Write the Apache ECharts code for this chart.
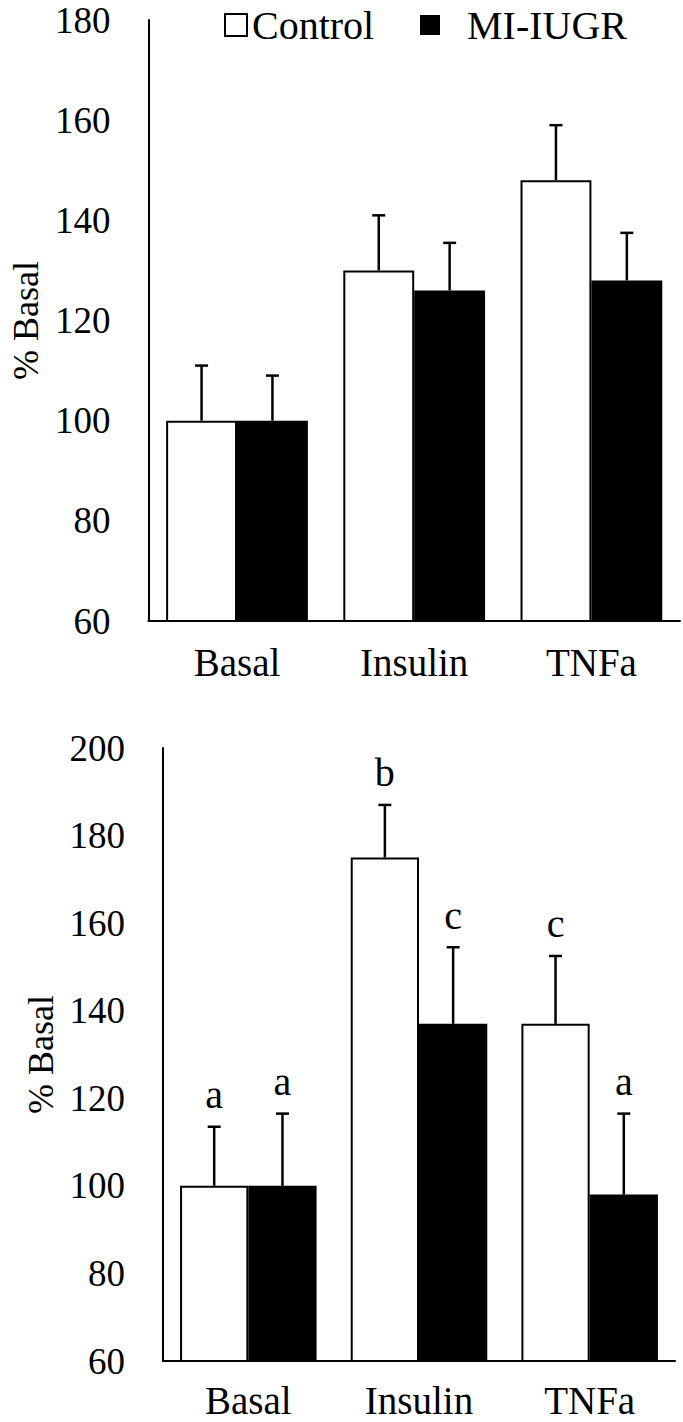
<!DOCTYPE html>
<html>
<head>
<meta charset="utf-8">
<script src="https://cdn.jsdelivr.net/npm/echarts@6/dist/echarts.min.js"></script>
<style>
html,body{margin:0;padding:0;background:#fff;}
#chart{width:683px;height:1422px;}
</style>
</head>
<body>
<div id="chart"></div>
<script>
// ---- data ----
const categories = ['Basal', 'Insulin', 'TNFa'];
const seriesNames = ['Control', 'MI-IUGR'];
// top panel
const topControl = [100, 130, 148];
const topControlErr = [11, 11, 11];
const topMI = [100, 126, 128];
const topMIErr = [9, 9.5, 9.5];
// bottom panel
const botControl = [100, 175, 137];
const botControlErr = [13.5, 12, 15.5];
const botMI = [100, 137, 98];
const botMIErr = [16.5, 17.5, 18.5];
const botControlLetters = ['a', 'b', 'c'];
const botMILetters = ['a', 'c', 'a'];
// axes
const topAxis = { min: 60, max: 180, interval: 20 };
const botAxis = { min: 60, max: 200, interval: 20 };
const yTitle = '% Basal';

const FONT = 'Liberation Serif';

function errData(vals, errs, sign) {
  return vals.map((v, i) => [i, v, errs[i], sign]);
}

function errSeries(name, xi, vals, errs, sign, letters) {
  return {
    type: 'custom',
    name: name + ' err',
    xAxisIndex: xi, yAxisIndex: xi,
    z: 5,
    silent: true,
    data: errData(vals, errs, sign),
    renderItem: function (params, api) {
      const idx = api.value(0), val = api.value(1), err = api.value(2), s = api.value(3);
      const band = api.size([1, 0])[0];
      const off = s * band * 0.2;
      const p0 = api.coord([idx, val]);
      const p1 = api.coord([idx, val + err]);
      const x = p0[0] + off;
      const ls = { stroke: '#000', lineWidth: 2.5 };
      const children = [
        { type: 'line', shape: { x1: x, y1: p0[1], x2: x, y2: p1[1] }, style: ls },
        { type: 'line', shape: { x1: x - 6.5, y1: p1[1], x2: x + 6.5, y2: p1[1] }, style: ls }
      ];
      if (letters) {
        children.push({
          type: 'text',
          style: {
            text: letters[params.dataIndex],
            x: x, y: p1[1] - 12,
            textAlign: 'center', textVerticalAlign: 'bottom',
            fontSize: 40, fontFamily: FONT, fill: '#000'
          }
        });
      }
      return { type: 'group', children: children };
    }
  };
}

function barSeries(name, xi, vals, isControl) {
  return {
    type: 'bar',
    name: name,
    xAxisIndex: xi, yAxisIndex: xi,
    data: vals,
    barGap: '0%',
    barCategoryGap: '20%',
    itemStyle: isControl
      ? { color: '#fff', borderColor: '#000', borderWidth: 2 }
      : { color: '#000', borderColor: '#000', borderWidth: 0 },
    emphasis: { disabled: true }
  };
}

function xAxis(gi, margin) {
  return {
    type: 'category', gridIndex: gi, data: categories,
    axisLine: { lineStyle: { color: '#000', width: 2 } },
    axisTick: { show: false },
    axisLabel: { color: '#000', fontSize: 39, fontFamily: FONT, margin: margin },
    splitLine: { show: false }
  };
}

function yAxis(gi, ax) {
  return {
    type: 'value', gridIndex: gi, min: ax.min, max: ax.max, interval: ax.interval,
    name: yTitle, nameLocation: 'middle', nameGap: 104,
    nameTextStyle: { color: '#000', fontSize: 36, fontFamily: FONT },
    axisLine: { show: true, lineStyle: { color: '#000', width: 2 } },
    axisTick: { show: false },
    axisLabel: { color: '#000', fontSize: 37, fontFamily: FONT, margin: 38 },
    splitLine: { show: false }
  };
}

const chart = echarts.init(document.getElementById('chart'), null, { renderer: 'svg' });
chart.setOption({
  animation: false,
  backgroundColor: '#fff',
  textStyle: { fontFamily: FONT },
  legend: [
    {
      data: [{ name: seriesNames[0], icon: 'rect', itemStyle: { color: '#fff', borderColor: '#000', borderWidth: 2 } }],
      left: 219, top: 0, itemWidth: 22, itemHeight: 22, selectedMode: false,
      textStyle: { color: '#000', fontSize: 40, fontFamily: FONT }
    },
    {
      data: [{ name: seriesNames[1], icon: 'rect', itemStyle: { color: '#000', borderWidth: 0 } }],
      left: 415, top: 0, itemWidth: 20, itemHeight: 20, selectedMode: false,
      textStyle: { color: '#000', fontSize: 40, fontFamily: FONT, padding: [0, 0, 0, 22] }
    }
  ],
  grid: [
    { left: 146, right: 3, top: 20, height: 601 },
    { left: 163, right: 8, top: 748, height: 613 }
  ],
  xAxis: [xAxis(0, 22), xAxis(1, 20)],
  yAxis: [yAxis(0, topAxis), yAxis(1, botAxis)],
  series: [
    barSeries(seriesNames[0], 0, topControl, true),
    barSeries(seriesNames[1], 0, topMI, false),
    barSeries(seriesNames[0], 1, botControl, true),
    barSeries(seriesNames[1], 1, botMI, false),
    errSeries(seriesNames[0], 0, topControl, topControlErr, -1, null),
    errSeries(seriesNames[1], 0, topMI, topMIErr, 1, null),
    errSeries(seriesNames[0], 1, botControl, botControlErr, -1, botControlLetters),
    errSeries(seriesNames[1], 1, botMI, botMIErr, 1, botMILetters)
  ]
});
</script>
</body>
</html>
